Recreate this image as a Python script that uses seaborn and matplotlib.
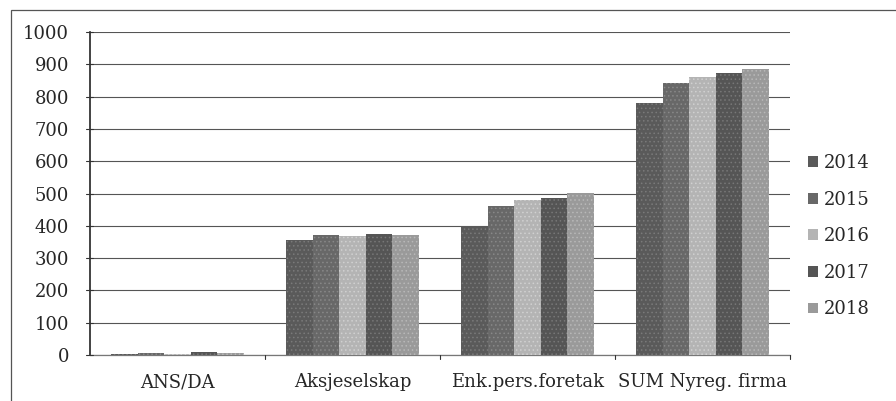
import pandas as pd
import matplotlib.pyplot as plt
import matplotlib.patches as mpatches
import seaborn as sns

# Values
categories = ["ANS/DA", "Aksjeselskap", "Enk.pers.foretak", "SUM Nyreg. firma"]
years = ["2014", "2015", "2016", "2017", "2018"]
v2014 = [2, 355, 400, 780]
v2015 = [6, 372, 460, 843]
v2016 = [3, 368, 480, 860]
v2017 = [8, 375, 487, 873]
v2018 = [5, 372, 502, 885]
y_ticks = [0, 100, 200, 300, 400, 500, 600, 700, 800, 900, 1000]

rows = []
for year, vals in zip(years, [v2014, v2015, v2016, v2017, v2018]):
    for cat, v in zip(categories, vals):
        rows.append({"kategori": cat, "år": year, "antall": v})
df = pd.DataFrame(rows)

sns.set_style("white")
plt.rcParams["font.family"] = ["DejaVu Serif"]
plt.rcParams["hatch.linewidth"] = 0.6

palette = ["#5a5a5a", "#686868", "#b4b4b4", "#555555", "#9a9a9a"]
hatch_colors = ["#7a7a7a", "#888888", "#d0d0d0", "#777777", "#b8b8b8"]

fig = plt.figure(figsize=(8.96, 4.01), dpi=100)
ax = fig.add_axes([0.1004, 0.1147, 0.7813, 0.8053])

sns.barplot(data=df, x="kategori", y="antall", hue="år", palette=palette,
            width=0.76, gap=0, saturation=1, linewidth=0, ax=ax, zorder=3)

# dithered look
for i, cont in enumerate(ax.containers):
    for bar in cont:
        bar.set_hatch("....")
        bar.set_edgecolor(hatch_colors[i])
        bar.set_linewidth(0)

ax.set_ylim(0, 1000)
ax.set_xlim(-0.5, 3.5)
ax.set_yticks(y_ticks)
ax.set_yticklabels([str(t) for t in y_ticks], fontsize=13)
ax.set_xticks(range(len(categories)))
ax.set_xticklabels(categories, fontsize=13)
ax.tick_params(axis="x", length=0, pad=13)
ax.tick_params(axis="y", length=0, pad=15)
ax.set_xlabel("")
ax.set_ylabel("")

# grid
for t in y_ticks:
    ax.axhline(t, color="#555555", lw=0.8, zorder=1)

# left axis crossing ticks and category boundary ticks
for t in y_ticks:
    ax.plot([-0.5 - 0.025, -0.5 + 0.015], [t, t], color="#333333", lw=0.8,
            clip_on=False, zorder=4)
for b in [0.5, 1.5, 2.5, 3.5]:
    ax.plot([b, b], [0, -12], color="#333333", lw=0.8, clip_on=False, zorder=4)

for s in ["top", "right"]:
    ax.spines[s].set_visible(False)
ax.spines["left"].set_color("#222222")
ax.spines["left"].set_linewidth(1.2)
ax.spines["bottom"].set_color("#777777")
ax.spines["bottom"].set_linewidth(0.9)

ax.legend(loc="center left", bbox_to_anchor=(1.0, 0.368), frameon=False,
          fontsize=13, handlelength=0.55, handleheight=0.55, handletextpad=0.3,
          labelspacing=1.03, borderaxespad=0.6)

# outer frame of the figure
frame = mpatches.Rectangle((11 / 896, -0.05), 1.0, 1.0 - 10 / 401 + 0.05,
                           transform=fig.transFigure, fill=False,
                           edgecolor="#555555", lw=0.9, clip_on=False)
fig.patches.append(frame)

fig.savefig("out.png", dpi=100)
